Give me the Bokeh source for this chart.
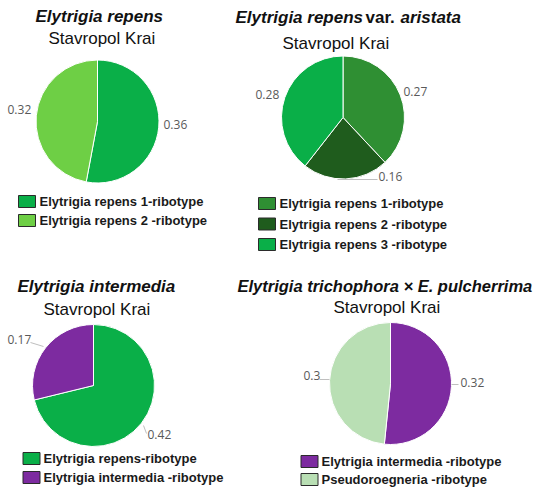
import math
from bokeh.plotting import figure
from bokeh.models import Range1d
from bokeh.core.properties import value
from bokeh.embed import file_html
from bokeh.resources import INLINE

# ---------------- data ----------------
pie1_title = "Elytrigia repens"
pie1_sub = "Stavropol Krai"
pie1_categories = ["Elytrigia repens 1-ribotype", "Elytrigia repens 2 -ribotype"]
pie1_values = [0.36, 0.32]

pie2_title_parts = ["Elytrigia repens", "var.", "aristata"]
pie2_sub = "Stavropol Krai"
pie2_categories = ["Elytrigia repens 1-ribotype", "Elytrigia repens 2 -ribotype",
                   "Elytrigia repens 3 -ribotype"]
pie2_values = [0.27, 0.16, 0.28]

pie3_title = "Elytrigia intermedia"
pie3_sub = "Stavropol Krai"
pie3_categories = ["Elytrigia repens-ribotype", "Elytrigia intermedia -ribotype"]
pie3_values = [0.42, 0.17]

pie4_title = "Elytrigia trichophora × E. pulcherrima"
pie4_sub = "Stavropol Krai"
pie4_categories = ["Elytrigia intermedia -ribotype", "Pseudoroegneria -ribotype"]
pie4_values = [0.32, 0.3]

# ---------------- styles ----------------
pie1_colors = ["#0AAF48", "#6ECF45"]
pie2_colors = ["#2F8F33", "#1F5C1D", "#0AAF48"]
pie3_colors = ["#0AAF48", "#7D2BA0"]
pie4_colors = ["#7D2BA0", "#B9DFB4"]

TITLE_FONT = value("Liberation Sans")
LABEL_FONT = value("Open Sans")
LABEL_COLOR = "#595959"
LEADER_COLOR = "#BFBFBF"

W, H = 534, 487
p = figure(width=W, height=H, output_backend="svg", toolbar_location=None,
           x_range=Range1d(0, W), y_range=Range1d(-H, 0),
           min_border=0, outline_line_color=None)
p.axis.visible = False
p.grid.visible = False
p.background_fill_color = "white"
p.border_fill_color = "white"


def Y(v):
    return -v


def draw_pie(cx, cy, r, values, colors):
    total = sum(values)
    cum = 0.0
    starts, ends = [], []
    for v in values:
        starts.append(math.pi / 2 - 2 * math.pi * cum / total)
        cum += v
        ends.append(math.pi / 2 - 2 * math.pi * cum / total)
    p.wedge(x=[cx] * len(values), y=[Y(cy)] * len(values), radius=r,
            start_angle=starts, end_angle=ends, direction="clock",
            fill_color=colors, line_color="white", line_width=1)


def draw_labels(values, positions):
    p.text(x=[q[0] for q in positions], y=[Y(q[1]) for q in positions],
           text=[str(v) for v in values], text_font=LABEL_FONT,
           text_font_size="12px", text_color=LABEL_COLOR,
           text_align="left", text_baseline="middle")


def draw_leaders(segs):
    for (x0, y0, x1, y1) in segs:
        p.line(x=[x0, x1], y=[Y(y0), Y(y1)], line_color=LEADER_COLOR, line_width=1)


def draw_legend(categories, colors, box_cx, text_x, ys):
    p.rect(x=[box_cx] * len(ys), y=[Y(v) for v in ys], width=17, height=12,
           fill_color=colors, line_color="#2b2b2b", line_width=1)
    p.text(x=[text_x] * len(ys), y=[Y(v) for v in ys], text=categories,
           text_font=TITLE_FONT, text_font_style="bold", text_font_size="13px",
           text_color="#1a1a1a", text_align="left", text_baseline="middle")


def draw_text(x, y, t, style="normal", size="17px"):
    p.text(x=[x], y=[Y(y)], text=[t], text_font=TITLE_FONT,
           text_font_style=style, text_font_size=size, text_color="#111111",
           text_align="left", text_baseline="middle")


# ---------- pie 1 ----------
draw_text(35, 16, pie1_title, "bold italic")
draw_text(48, 38, pie1_sub)
draw_pie(97, 121, 61.5, pie1_values, pie1_colors)
draw_labels(pie1_values, [(163, 124), (7, 109)])
draw_legend(pie1_categories, pie1_colors, 26.5, 39, [201, 220])

# ---------- pie 2 ----------
draw_text(235, 17, pie2_title_parts[0], "bold italic")
draw_text(365, 17, pie2_title_parts[1], "bold")
draw_text(400, 17, pie2_title_parts[2], "bold italic")
draw_text(282, 43, pie2_sub)
draw_pie(342.5, 117, 61.5, pie2_values, pie2_colors)
draw_leaders([(337, 179, 377, 179)])
draw_labels(pie2_values, [(403, 91), (378, 176), (255, 94)])
draw_legend(pie2_categories, pie2_colors, 266.5, 279, [203, 223.5, 244])

# ---------- pie 3 ----------
draw_text(17, 286, pie3_title, "bold italic")
draw_text(43, 309, pie3_sub)
draw_pie(93, 385, 61, pie3_values, pie3_colors)
draw_leaders([(30, 342, 43, 346), (143, 425, 146, 433)])
draw_labels(pie3_values, [(147, 434), (7, 339)])
draw_legend(pie3_categories, pie3_colors, 31, 43, [458, 477])

# ---------- pie 4 ----------
draw_text(237, 285, pie4_title, "bold italic", size="16.5px")
draw_text(333, 307, pie4_sub)
draw_pie(390, 383, 61, pie4_values, pie4_colors)
draw_leaders([(319, 379, 329, 379), (451, 384, 458, 384)])
draw_labels(pie4_values, [(460, 382), (303, 375)])
draw_legend(pie4_categories, pie4_colors, 309, 321, [461, 479])

open("out.html", "w").write(file_html(p, INLINE))
